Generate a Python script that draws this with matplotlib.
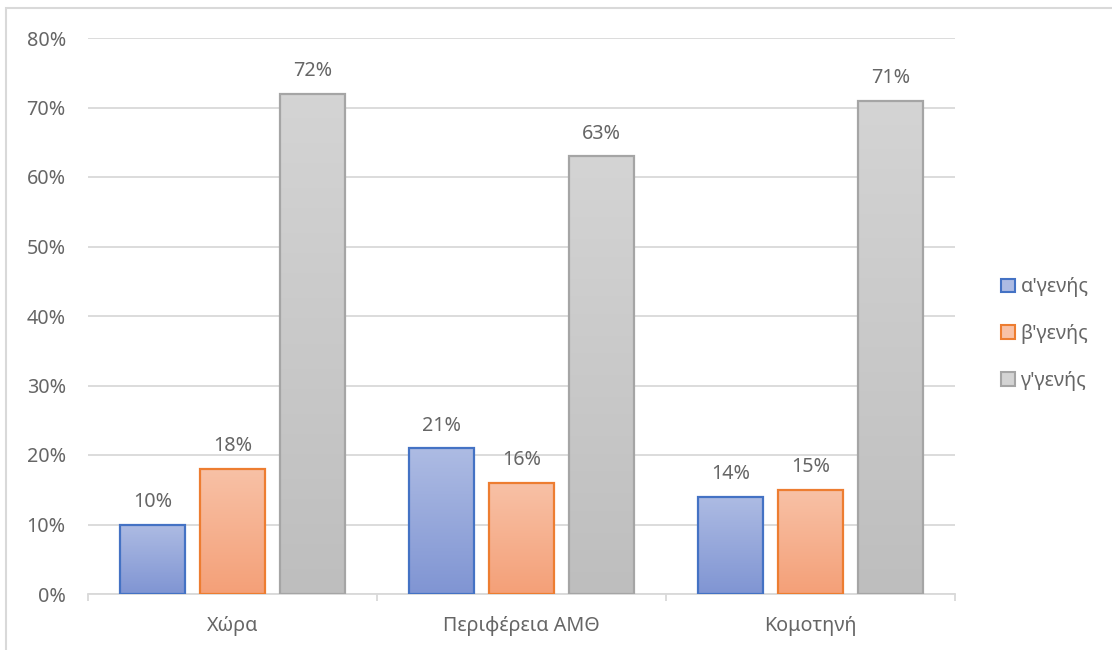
import numpy as np
import matplotlib
matplotlib.use('Agg')
import matplotlib.pyplot as plt
from matplotlib.patches import Rectangle, Patch
from matplotlib.colors import LinearSegmentedColormap

# DATA ---------------------------------------------------------------------------------------------
categories = ['Χώρα', 'Περιφέρεια ΑΜΘ', 'Κομοτηνή']
series = ["α'γενής", "β'γενής", "γ'γενής"]
a_gen = [10, 21, 14]
b_gen = [18, 16, 15]
c_gen = [72, 63, 71]
values = [a_gen, b_gen, c_gen]
yticks = [0, 10, 20, 30, 40, 50, 60, 70, 80]

# STYLE --------------------------------------------------------------------------------------------
edge_colors = ['#4472c4', '#ed7d31', '#a5a5a5']
grad_top = ['#adbbe3', '#f8c1a6', '#d4d4d4']
grad_bottom = ['#8095d3', '#f4a078', '#bebebe']
text_col = '#666666'
grid_col = '#d9d9d9'
fs = 14.2

plt.rcParams['font.family'] = ['Noto Sans', 'DejaVu Sans']

fig = plt.figure(figsize=(11.12, 6.5), dpi=100)
ax = fig.add_axes([88/1112, 1-594/650, (955-88)/1112, (594-38)/650])

x = np.arange(len(categories))
width = 0.225
step = 0.277

for i, vals in enumerate(values):
    bars = ax.bar(x + (i-1)*step, vals, width, facecolor='none',
                  edgecolor=edge_colors[i], linewidth=1.6, zorder=3)
    cmap = LinearSegmentedColormap.from_list('g%d' % i, [grad_bottom[i], grad_top[i]])
    for b, v in zip(bars, vals):
        x0 = b.get_x()
        grad = np.linspace(0, 1, 100).reshape(-1, 1)
        im = ax.imshow(grad, extent=[x0, x0 + b.get_width(), 0, v], origin='lower',
                       cmap=cmap, aspect='auto', zorder=2)
        im.set_clip_path(b)
        ax.annotate('%d%%' % v, (b.get_x() + b.get_width()/2, v), xytext=(0, 9),
                    textcoords='offset points', ha='center', va='bottom',
                    fontsize=fs, color=text_col)

ax.set_xlim(-0.5, 2.5)
ax.set_ylim(0, 80)
ax.set_yticks(yticks)
ax.set_yticklabels(['%d%%' % t for t in yticks])
ax.set_xticks(x)
ax.set_xticklabels(categories)
ax.set_xticks([-0.5, 0.5, 1.5, 2.5], minor=True)
ax.tick_params(axis='x', which='major', length=0, pad=16, labelsize=fs, labelcolor=text_col)
ax.tick_params(axis='x', which='minor', length=5, color=grid_col, width=1.3)
ax.tick_params(axis='y', length=0, pad=16, labelsize=fs, labelcolor=text_col)

ax.grid(axis='y', color=grid_col, linewidth=1.3, zorder=0)
ax.set_axisbelow(True)
for s in ['left', 'right', 'top']:
    ax.spines[s].set_visible(False)
ax.spines['bottom'].set_color(grid_col)
ax.spines['bottom'].set_linewidth(1.3)

handles = [Patch(facecolor=grad_top[i], edgecolor=edge_colors[i], linewidth=1.5) for i in range(3)]
fig.legend(handles, series, loc='center left', bbox_to_anchor=(983/1112, 1-334/650),
           frameon=False, fontsize=fs, labelcolor=text_col, handlelength=0.7,
           handleheight=0.7, handletextpad=0.3, labelspacing=1.35)

# outer chart frame (only left and top edges visible)
fig.add_artist(Rectangle((6/1112, -0.1), 1.2, 0.1 + (650-8)/650, fill=False,
                         edgecolor=grid_col, linewidth=1.5, transform=fig.transFigure))

fig.savefig('out.png', dpi=100)
